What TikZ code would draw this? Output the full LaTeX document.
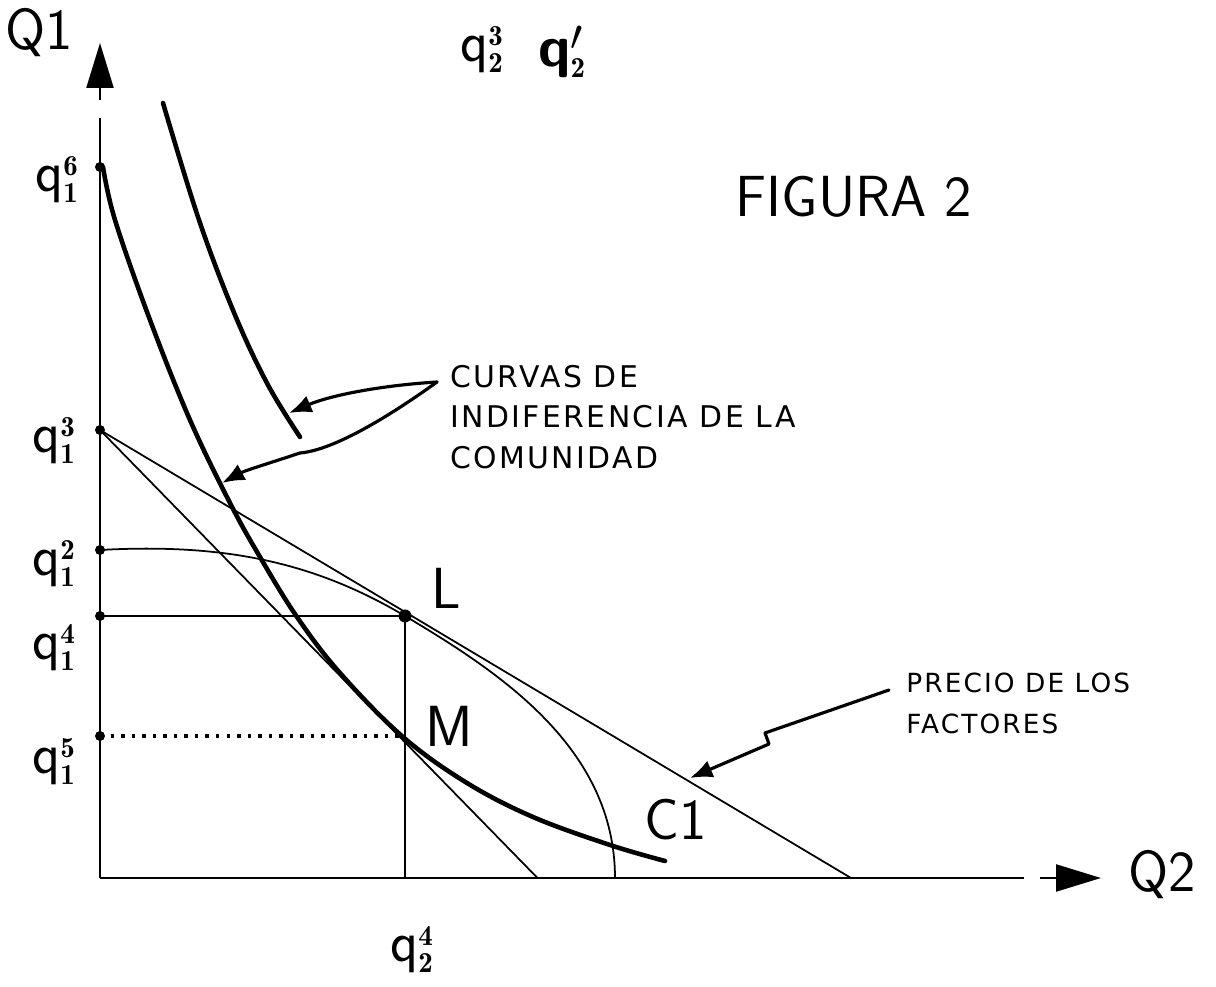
\documentclass[tikz,border=0pt]{standalone}
\usepackage{fontspec}
\usepackage{tikz}
\usetikzlibrary{arrows.meta}
\newfontfamily\handfont[LetterSpace=8]{DejaVu Sans}
\newcommand{\qlab}[2]{q$^{\scriptscriptstyle\mathbf{#1}}_{\scriptscriptstyle\mathbf{#2}}$}

\begin{document}
\begin{tikzpicture}[x=1cm,y=1cm,
  font=\sffamily\fontsize{33}{40}\selectfont,
  axl/.style={line width=1.3pt},
  axtip/.style={line width=1.3pt,-{Triangle[length=9mm,width=5.4mm]}},
  fine/.style={line width=1pt},
  icurve/.style={line width=2.6pt,line cap=round},
  hand/.style={line width=1.8pt,line cap=round,line join=round,-{Latex[length=4.5mm,width=3.6mm]}},
  handtxt/.style={font=\handfont\fontsize{17}{23}\selectfont,align=left,inner sep=0pt},
  lab/.style={inner sep=0pt},
  dotline/.style={line width=1.8pt,dash pattern=on 2pt off 4pt}]
\useasboundingbox (-2,-2.18) rectangle (22.32,17.56);
% ---------- axes ----------
\coordinate (O) at (0,0);
\coordinate (ytop) at (0,15.2);
\coordinate (yarr) at (0,15.56);
\coordinate (ytip) at (0,16.7);
\coordinate (xend) at (18.48,0);
\coordinate (xarr) at (18.8,0);
\coordinate (xtip) at (20.02,0);
\draw[axl] (O) -- (ytop);
\draw[axtip] (yarr) -- (ytip);
\draw[axl] (O) -- (xend);
\draw[axtip] (xarr) -- (xtip);
\node[lab] (Q1) at (-1.22,16.9) {Q1};
\node[lab] (Q2) at (21.24,0.06) {Q2};
% ---------- points on Q1 ----------
\coordinate (q16) at (0,14.22);
\coordinate (q13) at (0,8.96);
\coordinate (q12) at (0,6.56);
\coordinate (q14) at (0,5.24);
\coordinate (q15) at (0,2.84);
\coordinate (L) at (6.1,5.24);
\coordinate (M) at (6.1,2.84);
\coordinate (q24) at (6.1,0);
\coordinate (ppfend) at (10.3,0);
\coordinate (p1end) at (15.02,0);
\coordinate (p2end) at (8.75,0);
\foreach \p in {q16,q13,q12,q14,q15} \fill (\p) circle (1mm);
\node[lab] (lq16) at (-0.86,13.96) {\qlab{6}{1}};
\node[lab] (lq13) at (-0.92,8.74) {\qlab{3}{1}};
\node[lab] (lq12) at (-0.92,6.28) {\qlab{2}{1}};
\node[lab] (lq14) at (-0.92,4.6) {\qlab{4}{1}};
\node[lab] (lq15) at (-0.92,2.32) {\qlab{5}{1}};
\node[lab] (lq23) at (7.64,16.56) {\qlab{3}{2}};
\node[lab] (lq21) at (9.24,16.52) {{\bfseries q}$'_{\scriptscriptstyle\mathbf{2}}$};
\node[lab] (lq24) at (6.24,-1.44) {\qlab{4}{2}};
% ---------- price lines, frontier ----------
\draw[fine] (q13) -- (p1end);
\draw[fine] (q13) -- (p2end);
\draw[fine] (q12) .. controls (2.5,6.7) and (4.3,6.31) .. (L) .. controls (8.0,4.11) and (10.3,2.6) .. (ppfend);
\draw[fine] (q14) -- (L);
\draw[fine] (L) -- (q24);
\draw[dotline] (q15) -- (M);
\fill (L) circle (1.3mm);
\node[lab] (Llab) at (6.92,5.8) {L};
\node[lab] (Mlab) at (6.98,3.04) {M};
% ---------- indifference curves ----------
\draw[icurve] plot[smooth,tension=0.6] coordinates {(0.06,14.22) (0.3,13.16) (1.0,11.16) (1.8,9.16) (2.6,7.5) (3.2,6.42) (3.94,5.22) (4.8,4.1) (6.06,2.82) (7.34,1.9) (8.66,1.22) (10.2,0.66) (11.3,0.34)};
\draw[icurve] plot[smooth,tension=0.6] coordinates {(1.26,15.5) (1.98,13.16) (2.7,11.26) (3.36,9.86) (4.0,8.82)};
\node[lab] (C1) at (11.52,1.16) {C1};
\node[lab] (fig) at (15.08,13.62) {FIGURA 2};
% ---------- notes ----------
\node[handtxt,anchor=north west] (curvas) at (7.0,10.26) {CURVAS DE\\INDIFERENCIA DE LA\\COMUNIDAD};
\coordinate (cv) at (6.74,9.92);
\coordinate (ic2) at (3.78,9.3);
\coordinate (ic1) at (2.44,7.9);
\draw[hand] (cv) .. controls (5.6,9.85) and (4.6,9.65) .. (ic2);
\draw[hand] (cv) .. controls (5.6,9.1) and (4.6,8.55) .. (4.0,8.5) .. controls (3.4,8.3) and (2.9,8.15) .. (ic1);
\node[handtxt,font=\handfont\fontsize{15}{23}\selectfont,anchor=north west] (precio) at (16.12,4.1) {PRECIO DE LOS\\FACTORES};
\coordinate (pf) at (15.78,3.76);
\coordinate (pfe) at (11.8,2.0);
\draw[hand] (pf) -- (13.3,2.9) -- (13.38,2.68) -- (pfe);
\end{tikzpicture}
\end{document}
